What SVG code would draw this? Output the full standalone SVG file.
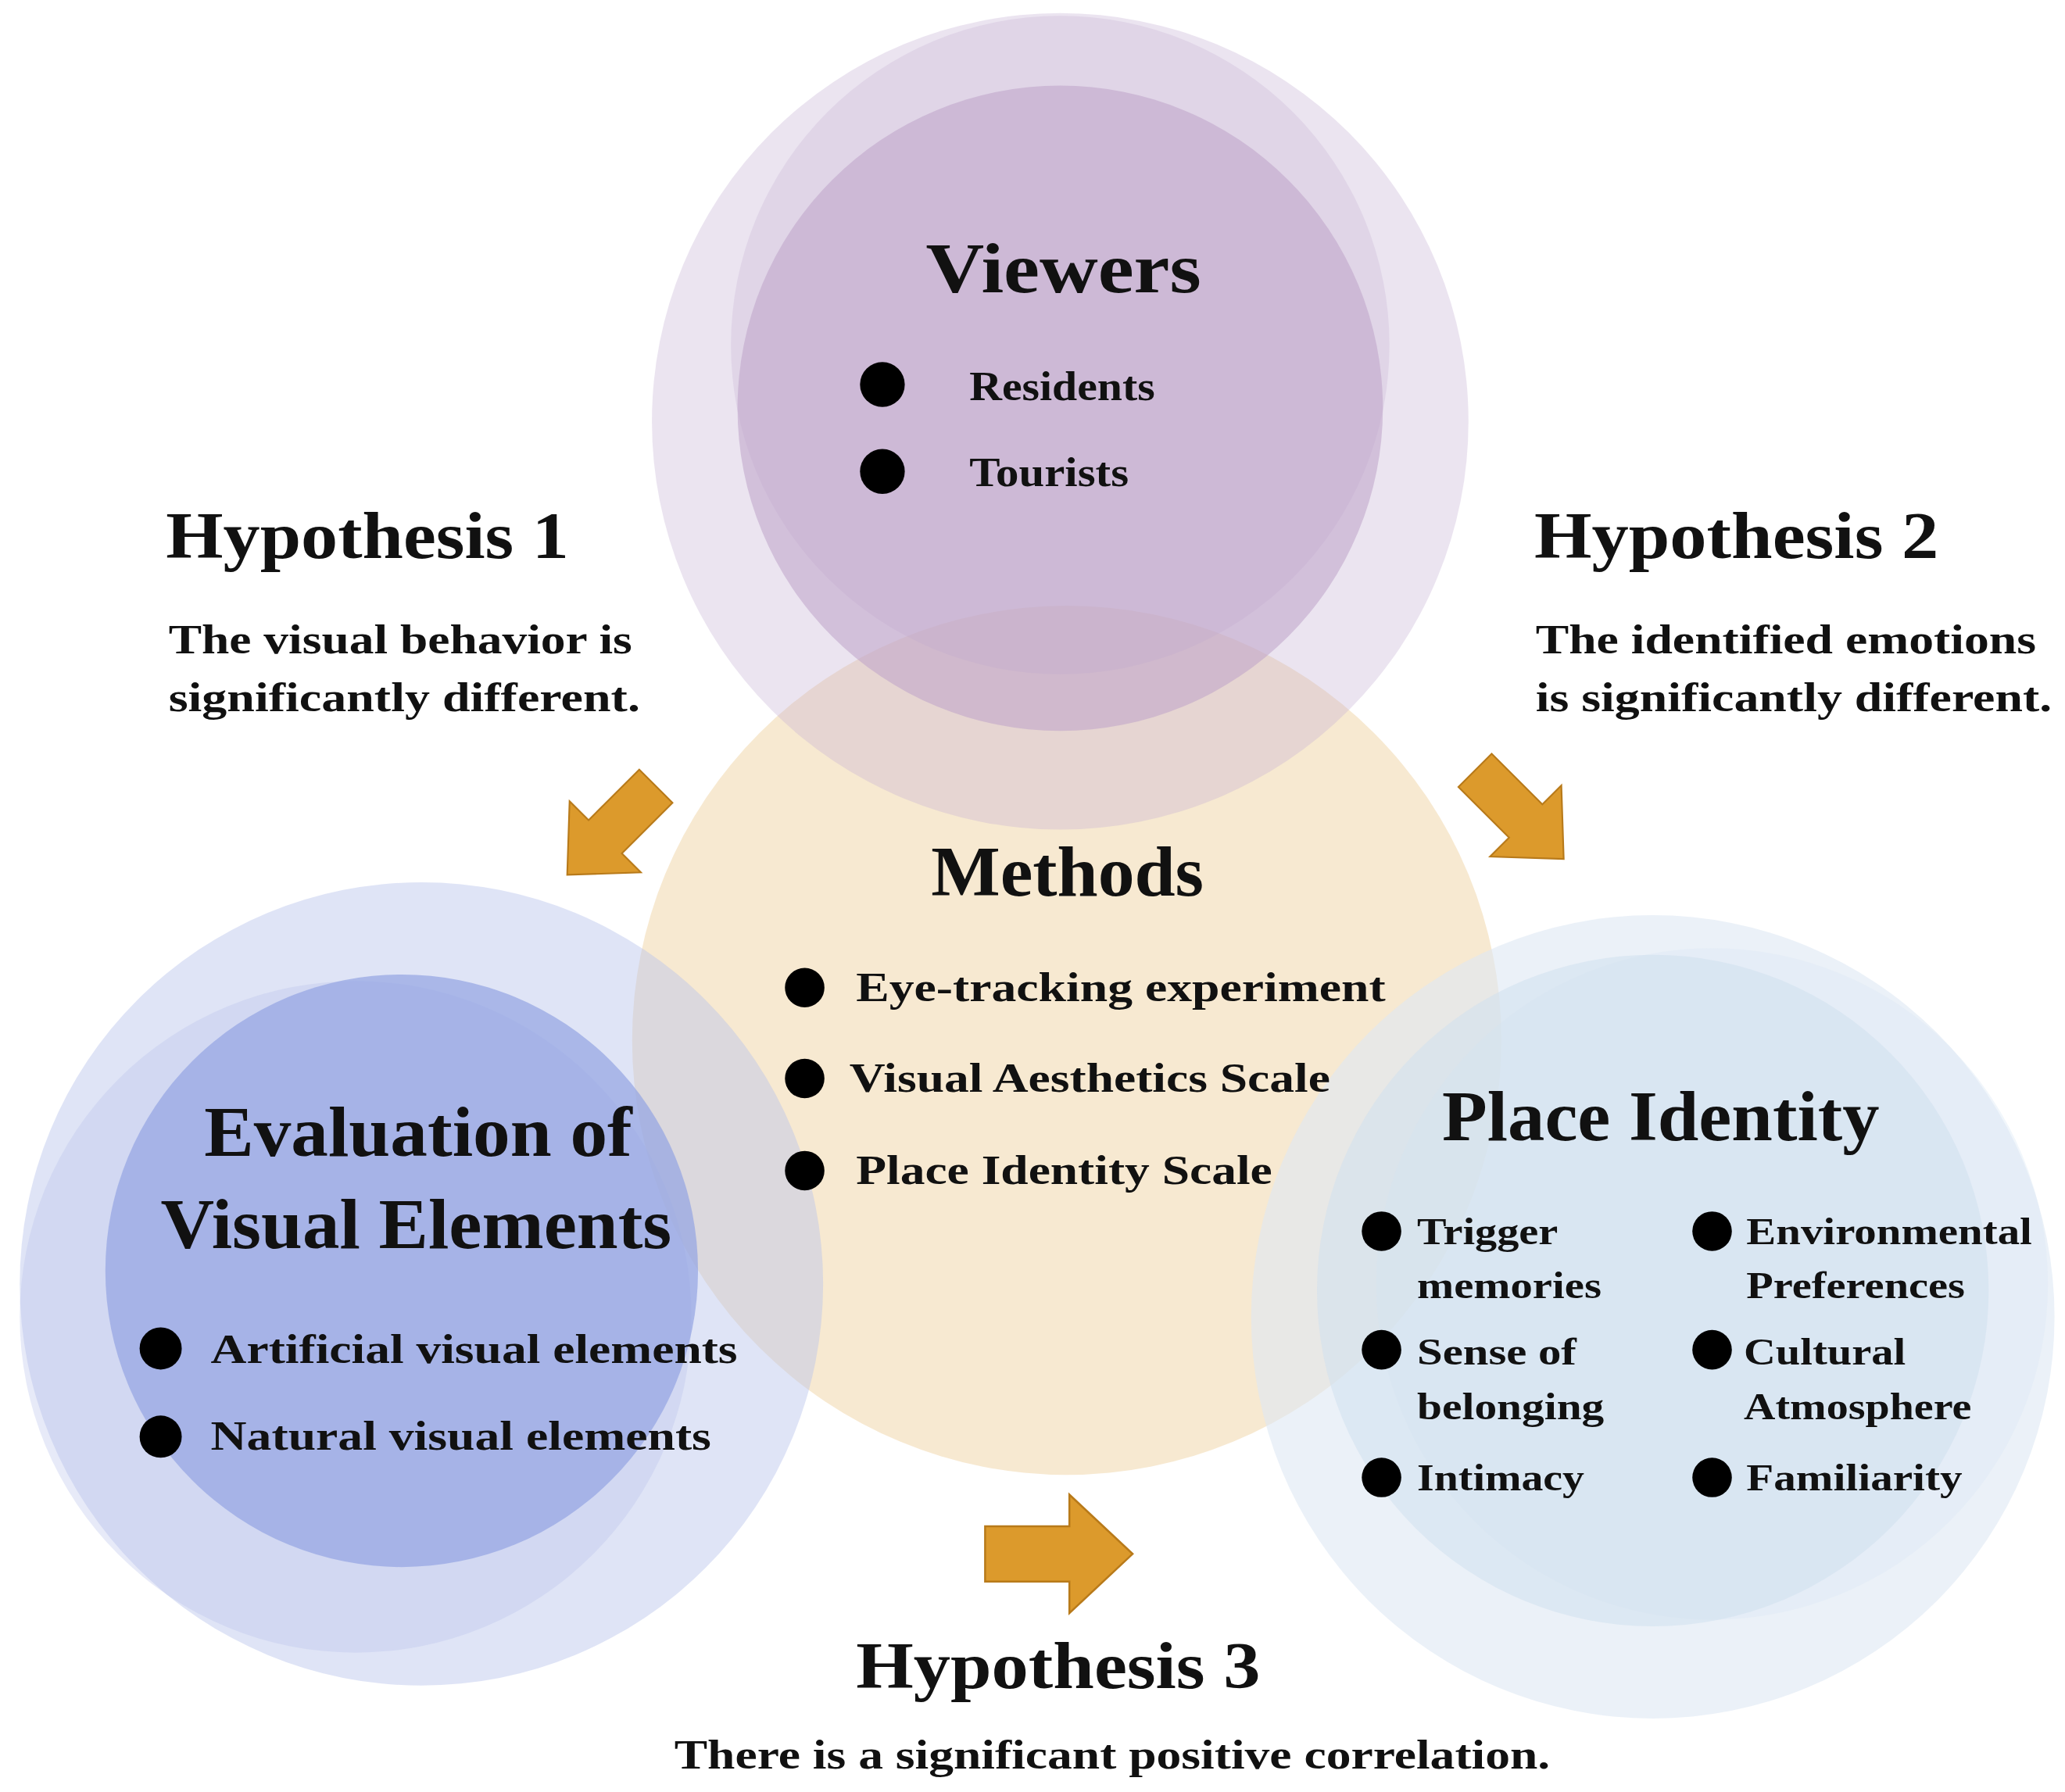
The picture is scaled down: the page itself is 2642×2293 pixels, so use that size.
<svg xmlns="http://www.w3.org/2000/svg" width="2642" height="2293" viewBox="0 0 2642 2293">
<defs>
<style>
text{font-family:"Liberation Serif","Times New Roman",serif;font-weight:bold;fill:#111}
.t{font-size:54px}
.h{font-size:50px}
.b{font-size:31px}
.l{font-size:31px}
.s{font-size:29px}
.arr{fill:#dc9a2c;stroke:#b87a1a;stroke-width:1.5}
</style>
<polygon id="ar" points="0,-21 64,-21 64,-45 112,0 64,45 64,21 0,21"/>
</defs>
<rect width="2642" height="2293" fill="#fff"/>
<g transform="scale(1.685)">
<g id="methods-bg">
<circle cx="810" cy="790" r="330" fill="#f3dfbd" opacity="0.7"/>
</g>
<g id="viewers">
<circle cx="805" cy="320" r="310" fill="#c7b3d3" opacity="0.35"/>
<circle cx="805" cy="262" r="250" fill="#c7b3d3" opacity="0.3"/>
<circle cx="805" cy="310" r="245" fill="#bda3c9" opacity="0.55"/>
<text class="t" x="703" y="222" textLength="209" lengthAdjust="spacingAndGlyphs">Viewers</text>
<circle cx="670" cy="292" r="17" fill="#000"/><text class="l" x="736" y="304" textLength="141" lengthAdjust="spacingAndGlyphs">Residents</text>
<circle cx="670" cy="358" r="17" fill="#000"/><text class="l" x="736" y="369" textLength="121" lengthAdjust="spacingAndGlyphs">Tourists</text>
</g>
<g id="evaluation">
<circle cx="320" cy="975" r="305" fill="#b9c3ea" opacity="0.45"/>
<circle cx="270" cy="1000" r="255" fill="#b9c3ea" opacity="0.35"/>
<circle cx="305" cy="965" r="225" fill="#93a4e3" opacity="0.7"/>
<text class="t" x="155" y="878" textLength="325" lengthAdjust="spacingAndGlyphs">Evaluation of</text>
<text class="t" x="122" y="948" textLength="388" lengthAdjust="spacingAndGlyphs">Visual Elements</text>
<circle cx="122" cy="1024" r="16" fill="#000"/><text class="l" x="160" y="1035" textLength="400" lengthAdjust="spacingAndGlyphs">Artificial visual elements</text>
<circle cx="122" cy="1091" r="16" fill="#000"/><text class="l" x="160" y="1101" textLength="380" lengthAdjust="spacingAndGlyphs">Natural visual elements</text>
</g>
<g id="place">
<circle cx="1255" cy="1000" r="305" fill="#dde8f4" opacity="0.6"/>
<circle cx="1300" cy="975" r="255" fill="#dde8f4" opacity="0.4"/>
<circle cx="1255" cy="980" r="255" fill="#cfe0ef" opacity="0.55"/>
<text class="t" x="1095" y="866" textLength="332" lengthAdjust="spacingAndGlyphs">Place Identity</text>
<circle cx="1049" cy="935" r="15" fill="#000"/><text class="s" x="1076" y="945" textLength="107" lengthAdjust="spacingAndGlyphs">Trigger</text><text class="s" x="1076" y="986" textLength="140" lengthAdjust="spacingAndGlyphs">memories</text>
<circle cx="1049" cy="1025" r="15" fill="#000"/><text class="s" x="1076" y="1036" textLength="121" lengthAdjust="spacingAndGlyphs">Sense of</text><text class="s" x="1076" y="1078" textLength="142" lengthAdjust="spacingAndGlyphs">belonging</text>
<circle cx="1049" cy="1122" r="15" fill="#000"/><text class="s" x="1076" y="1132" textLength="127" lengthAdjust="spacingAndGlyphs">Intimacy</text>
<circle cx="1300" cy="935" r="15" fill="#000"/><text class="s" x="1326" y="945" textLength="217" lengthAdjust="spacingAndGlyphs">Environmental</text><text class="s" x="1326" y="986" textLength="166" lengthAdjust="spacingAndGlyphs">Preferences</text>
<circle cx="1300" cy="1025" r="15" fill="#000"/><text class="s" x="1324" y="1036" textLength="123" lengthAdjust="spacingAndGlyphs">Cultural</text><text class="s" x="1324" y="1078" textLength="173" lengthAdjust="spacingAndGlyphs">Atmosphere</text>
<circle cx="1300" cy="1122" r="15" fill="#000"/><text class="s" x="1326" y="1132" textLength="164" lengthAdjust="spacingAndGlyphs">Familiarity</text>
</g>
<g id="methods">
<text class="t" x="707" y="680" textLength="207" lengthAdjust="spacingAndGlyphs">Methods</text>
<circle cx="611" cy="750" r="15" fill="#000"/><text class="l" x="650" y="760" textLength="402" lengthAdjust="spacingAndGlyphs">Eye-tracking experiment</text>
<circle cx="611" cy="819" r="15" fill="#000"/><text class="l" x="645" y="829" textLength="365" lengthAdjust="spacingAndGlyphs">Visual Aesthetics Scale</text>
<circle cx="611" cy="889" r="15" fill="#000"/><text class="l" x="650" y="899" textLength="316" lengthAdjust="spacingAndGlyphs">Place Identity Scale</text>
</g>
<g id="hyp1">
<text class="h" x="126" y="424" textLength="306" lengthAdjust="spacingAndGlyphs">Hypothesis 1</text>
<text class="b" x="128" y="496" textLength="352" lengthAdjust="spacingAndGlyphs">The visual behavior is</text>
<text class="b" x="128" y="540" textLength="358" lengthAdjust="spacingAndGlyphs">significantly different.</text>
</g>
<g id="hyp2">
<text class="h" x="1165" y="424" textLength="307" lengthAdjust="spacingAndGlyphs">Hypothesis 2</text>
<text class="b" x="1166" y="496" textLength="380" lengthAdjust="spacingAndGlyphs">The identified emotions</text>
<text class="b" x="1166" y="540" textLength="392" lengthAdjust="spacingAndGlyphs">is significantly different.</text>
</g>
<g id="hyp3">
<text class="h" x="650" y="1282" textLength="307" lengthAdjust="spacingAndGlyphs">Hypothesis 3</text>
<text class="b" x="512" y="1343" textLength="665" lengthAdjust="spacingAndGlyphs">There is a significant positive correlation.</text>
</g>
<g id="connectors">
<use href="#ar" class="arr" transform="translate(498,597) rotate(135) scale(0.85)"/>
<use href="#ar" class="arr" transform="translate(1120,585) rotate(45) scale(0.85)"/>
<use href="#ar" class="arr" transform="translate(748,1180)"/>
</g>
</g>
</svg>
